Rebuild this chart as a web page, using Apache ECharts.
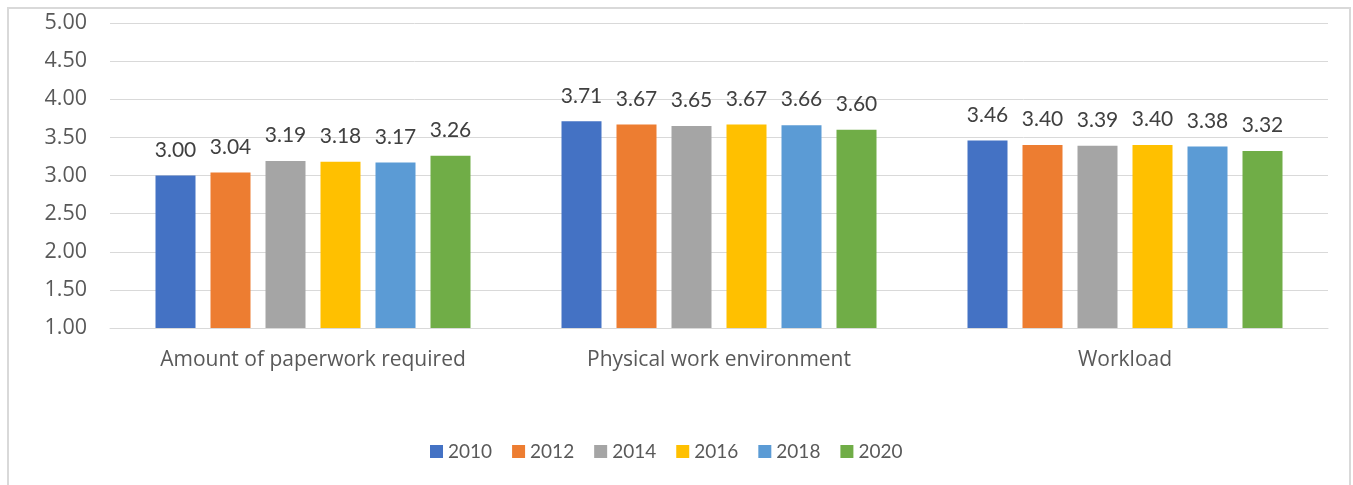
<!DOCTYPE html>
<html>
<head>
<meta charset="utf-8">
<script src="https://cdn.jsdelivr.net/npm/echarts@6/dist/echarts.min.js"></script>
<style>
  html, body { margin: 0; padding: 0; background: #fff; }
  #chart { width: 1353px; height: 485px; }
</style>
</head>
<body>
<div id="chart"></div>
<script>
// Mean ratings per aspect of work, by survey year
const categories = ['Amount of paperwork required', 'Physical work environment', 'Workload'];
const years = ['2010', '2012', '2014', '2016', '2018', '2020'];
const values2010 = [3.00, 3.71, 3.46];
const values2012 = [3.04, 3.67, 3.40];
const values2014 = [3.19, 3.65, 3.39];
const values2016 = [3.18, 3.67, 3.40];
const values2018 = [3.17, 3.66, 3.38];
const values2020 = [3.26, 3.60, 3.32];
const yTicks = { min: 1, max: 5, interval: 0.5 };

const seriesValues = [values2010, values2012, values2014, values2016, values2018, values2020];
const colors = ['#4472C4', '#ED7D31', '#A5A5A5', '#FFC000', '#5B9BD5', '#70AD47'];
const AXIS_FONT = '"Open Sans", "Noto Sans", sans-serif';
const LABEL_FONT = 'Lato, "Open Sans", sans-serif';
const TEXT = '#595959';

const chart = echarts.init(document.getElementById('chart'));
chart.setOption({
  animation: false,
  color: colors,
  graphic: [{
    type: 'rect',
    shape: { x: 8, y: 8, width: 1342, height: 500 },
    style: { fill: 'none', stroke: '#d9d9d9', lineWidth: 2 },
    silent: true
  }],
  grid: { left: 110, right: 25, top: 23, bottom: 157 },
  legend: {
    bottom: 19,
    left: 425,
    itemWidth: 13,
    itemHeight: 13,
    itemGap: 20,
    icon: 'rect',
    textStyle: { color: TEXT, fontSize: 19, fontFamily: LABEL_FONT }
  },
  xAxis: {
    type: 'category',
    data: categories,
    axisLine: { lineStyle: { color: '#d9d9d9', width: 1 } },
    axisTick: { show: false },
    axisLabel: { color: TEXT, fontSize: 21, margin: 22, fontFamily: AXIS_FONT }
  },
  yAxis: {
    type: 'value',
    min: yTicks.min,
    max: yTicks.max,
    interval: yTicks.interval,
    axisLine: { show: false },
    axisTick: { show: false },
    splitLine: { lineStyle: { color: '#d9d9d9', width: 1 } },
    axisLabel: {
      color: TEXT, fontSize: 21.5, margin: 23, fontFamily: AXIS_FONT,
      formatter: v => v.toFixed(2)
    }
  },
  series: years.map((y, i) => ({
    name: y,
    type: 'bar',
    data: seriesValues[i],
    barWidth: 40,
    barGap: '37.5%',
    label: {
      show: true,
      position: 'top',
      distance: 15,
      color: '#404040',
      fontSize: 21,
      fontFamily: LABEL_FONT,
      formatter: p => p.value.toFixed(2)
    }
  }))
});
</script>
</body>
</html>
